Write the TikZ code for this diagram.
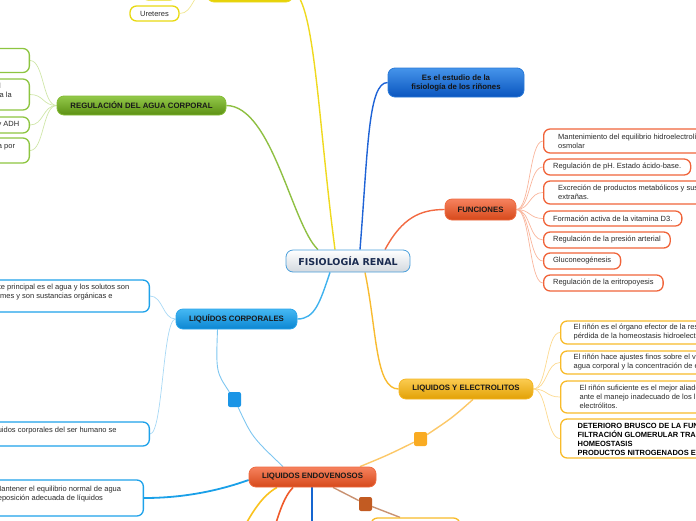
\documentclass[tikz,border=0pt]{standalone}
\usepackage{fontspec}
\setmainfont{Liberation Sans}
\newfontfamily\dvsans{DejaVu Sans}
\usetikzlibrary{shadings,calc}
\pgfdeclarelayer{bg}
\pgfsetlayers{bg,main}
\definecolor{grT}{HTML}{93C94A}\definecolor{grB}{HTML}{5C9013}\definecolor{grD}{HTML}{84BC35}
\definecolor{grC}{HTML}{8DC540}\definecolor{grL}{HTML}{CFE6A8}\definecolor{grM}{HTML}{8FC043}
\definecolor{yeT}{HTML}{F7EA55}\definecolor{yeB}{HTML}{E5D000}\definecolor{yeD}{HTML}{E9DB22}
\definecolor{yeC}{HTML}{E8D912}\definecolor{yeL}{HTML}{F0E690}\definecolor{yeM}{HTML}{EFD91E}
\definecolor{blT}{HTML}{4594EA}\definecolor{blB}{HTML}{0A55BF}\definecolor{blD}{HTML}{2A7AD8}
\definecolor{blM}{HTML}{1E63D6}
\definecolor{rdT}{HTML}{F6825E}\definecolor{rdB}{HTML}{D6481A}\definecolor{rdD}{HTML}{EE6A40}
\definecolor{rdC}{HTML}{F0643A}\definecolor{rdL}{HTML}{F9B59C}\definecolor{rdM}{HTML}{F26A42}
\definecolor{orT}{HTML}{FBCB50}\definecolor{orB}{HTML}{E2A105}\definecolor{orD}{HTML}{F5B623}
\definecolor{orC}{HTML}{F8BB2A}\definecolor{orL}{HTML}{FCD98E}\definecolor{orM}{HTML}{F8BB30}
\definecolor{cyT}{HTML}{45B8F3}\definecolor{cyB}{HTML}{0B86D2}\definecolor{cyD}{HTML}{2AA4EA}
\definecolor{cyC}{HTML}{1EA2EA}\definecolor{cyL}{HTML}{A7D8F5}\definecolor{cyM}{HTML}{40B2EE}
\definecolor{ceB}{HTML}{D3D9DF}\definecolor{ceD}{HTML}{4B9FDB}\definecolor{ceX}{HTML}{1A2B50}
\definecolor{sqB}{HTML}{1B95E6}\definecolor{sqO}{HTML}{F9AB22}\definecolor{sqR}{HTML}{C25B22}
\definecolor{rlB}{HTML}{7EC6F0}\definecolor{rlO}{HTML}{FCC868}\definecolor{rlR}{HTML}{C99272}
\definecolor{evY}{HTML}{F9C21E}\definecolor{evR}{HTML}{EF5A2A}\definecolor{evB}{HTML}{1565D0}
\definecolor{evC}{HTML}{1AA0E8}\definecolor{txt}{HTML}{2B2B2B}
\tikzset{
 topicbox/.style={rounded corners=7pt, inner sep=0pt, line width=0.8pt, align=center,
   font=\fontsize{7.8}{9}\selectfont\bfseries, text=black!90},
 childbox/.style={rounded corners=6.5pt, fill=white, line width=1.3pt, inner xsep=6pt,
   inner ysep=1pt, font=\fontsize{7.5}{9}\selectfont, text=txt},
 childR/.style={childbox, anchor=west, align=left, inner xsep=9.5pt},
 childL/.style={childbox, anchor=east, align=right},
 mainlink/.style={line width=1.4pt},
 twig/.style={line width=0.7pt},
 relbox/.style={rounded corners=2pt, minimum width=13pt, minimum height=14pt, inner sep=0pt}
}
\begin{document}
\begin{tikzpicture}[x=1pt,y=-1pt]
\useasboundingbox (0,0) rectangle (696,520);
% central
\node[topicbox, draw=ceD, top color=white, bottom color=ceB, minimum width=124pt, minimum height=22pt,
  font=\dvsans\bfseries\fontsize{9.5}{11}\selectfont, text=ceX] (c) at (348,261) {FISIOLOGÍA RENAL};
% main topics
\node[topicbox, draw=yeD, top color=yeT, bottom color=yeB, minimum width=86pt, minimum height=22pt] (A) at (250,-9) {};
\node[topicbox, draw=grD, top color=grT, bottom color=grB, minimum width=169pt, minimum height=19pt] (reg) at (141.5,105.5) {REGULACIÓN DEL AGUA CORPORAL};
\node[topicbox, draw=blD, top color=blT, bottom color=blB, minimum width=136pt, minimum height=29pt, text=black!92] (es) at (456,82.5) {Es el estudio de la\\fisiología de los riñones};
\node[topicbox, draw=rdD, top color=rdT, bottom color=rdB, minimum width=71pt, minimum height=21pt] (fun) at (480.5,209.5) {FUNCIONES};
\node[topicbox, draw=orD, top color=orT, bottom color=orB, minimum width=134pt, minimum height=20pt] (lye) at (466,389) {LIQUIDOS Y ELECTROLITOS};
\node[topicbox, draw=cyD, top color=cyT, bottom color=cyB, minimum width=121pt, minimum height=20pt] (lc) at (236.5,319) {LIQUÍDOS CORPORALES};
\node[topicbox, draw=rdD, top color=rdT, bottom color=rdB, minimum width=127pt, minimum height=20pt] (le) at (312.5,477) {LIQUIDOS ENDOVENOSOS};
% yellow children (top)
\node[childbox, draw=yeC, minimum width=34pt, minimum height=16pt] (B) at (159,-8) {};
\node[childbox, draw=yeC, minimum width=49pt, minimum height=15pt, inner sep=0pt] (ur) at (154.5,13.5) {Ureteres};
% green children
\node[childL, draw=grC, minimum width=100pt, minimum height=24pt] (g1) at (30,60.5) {};
\node[childL, draw=grC, minimum height=31pt] (g2) at (30,94.5) {La hormona antidiurética actúa a nivel del\rule{22.5pt}{0pt}\\túbulo colector y aumenta la\rule{11.5pt}{0pt}\\\mbox{}};
\node[childL, draw=grC, minimum height=16pt] (g3) at (30,125) {Osmolaridad plasmática y ADH\rule{4pt}{0pt}};
\node[childL, draw=grC, minimum height=25pt] (g4) at (30,150.5) {La excreción renal de agua es regulada por\rule{8.3pt}{0pt}\\\mbox{}};
% funciones children
\node[childR, draw=rdC, minimum height=24pt] (f1) at (543,141) {\rule{5pt}{0pt}Mantenimiento del equilibrio hidroelectrolítico y\\\rule{5pt}{0pt}osmolar};
\node[childR, draw=rdC, minimum height=16pt] (f2) at (543,167) {Regulación de pH. Estado ácido-base.};
\node[childR, draw=rdC, minimum height=23pt] (f3) at (543,192.5) {\rule{5pt}{0pt}Excreción de productos metabólicos y sustancias\\\rule{5pt}{0pt}extrañas.};
\node[childR, draw=rdC, minimum height=15pt] (f4) at (543,218.5) {Formación activa de la vitamina D3.};
\node[childR, draw=rdC, minimum height=16pt] (f5) at (543,240) {Regulación de la presión arterial};
\node[childR, draw=rdC, minimum height=16pt] (f6) at (543,261) {Gluconeogénesis};
\node[childR, draw=rdC, minimum height=16pt] (f7) at (543,283) {Regulación de la eritropoyesis};
% liquidos y electrolitos children
\node[childR, draw=orC, minimum height=23pt] (l1) at (560,332.5) {\rule{3.5pt}{0pt}El riñón es el órgano efector de la respuesta ante la\\\rule{3.5pt}{0pt}pérdida de la homeostasis hidroelectrolítica};
\node[childR, draw=orC, minimum height=23pt] (l2) at (560,362.5) {\rule{3.5pt}{0pt}El riñón hace ajustes finos sobre el volumen de\\\rule{3.5pt}{0pt}agua corporal y la concentración de electrolitos};
\node[childR, draw=orC, minimum height=32pt] (l3) at (560,397) {\rule{9.5pt}{0pt}El riñón suficiente es el mejor aliado del médico\\\rule{9.5pt}{0pt}ante el manejo inadecuado de los líquidos y\\\rule{9.5pt}{0pt}electrólitos.};
\node[childR, draw=orC, minimum height=39pt, font=\fontsize{7.5}{9}\selectfont\bfseries, text=black] (l4) at (560,438.5) {\rule{7.5pt}{0pt}DETERIORO BRUSCO DE LA FUNCIÓN RENAL\\\rule{7.5pt}{0pt}FILTRACIÓN GLOMERULAR TRASTORNO DE LA\\\rule{7.5pt}{0pt}HOMEOSTASIS\\\rule{7.5pt}{0pt}PRODUCTOS NITROGENADOS EN SANGRE};
% liquidos corporales children
\node[childL, draw=cyC, minimum height=32pt] (lc1) at (150,296) {El componente principal es el agua y los solutos son\rule{14pt}{0pt}\\multiformes y son sustancias orgánicas e\rule{30.7pt}{0pt}\\\mbox{}};
\node[childL, draw=cyC, minimum height=24pt] (lc2) at (150,434) {Los líquidos corporales del ser humano se\rule{26.7pt}{0pt}\\\mbox{}};
% liquidos endovenosos child
\node[childL, draw=cyC, minimum height=36pt] (lec) at (144,498) {Mantener el equilibrio normal de agua\rule{16.3pt}{0pt}\\reposición adecuada de líquidos\rule{34.4pt}{0pt}\\\mbox{}};
% bottom box
\node[childbox, draw=orC, minimum width=89pt, minimum height=24pt] (bb) at (415.5,530) {};
% relation squares
\node[relbox, fill=sqB, minimum height=15pt] (sq1) at (234.5,399.5) {};
\node[relbox, fill=sqO] (sq2) at (420.5,439) {};
\node[relbox, fill=sqR] (sq3) at (365.5,504) {};
% off-picture ends
\coordinate (ye) at (228,560);
\coordinate (re) at (266,560);
\coordinate (be) at (312,560);
\begin{pgfonlayer}{bg}
% main connectors
\draw[mainlink, yeM] ($(c.north)+(-13,0)$) .. controls (318,120) and (315,4) .. (A.east);
\draw[mainlink, grM] (reg.east) .. controls (272,106) and (292,225) .. ($(c.north)+(-30,0)$);
\draw[mainlink, blM] ($(c.north)+(12,0)$) .. controls (368,150) and (368,82.5) .. (es.west);
\draw[mainlink, rdM] ($(c.north)+(37,0)$) .. controls (402,218) and (420,209.5) .. (fun.west);
\draw[mainlink, orM] ($(c.south)+(17,0)$) .. controls (377,330) and (375,389) .. (lye.west);
\draw[mainlink, cyM] ($(c.south)+(-18,0)$) .. controls (320,302) and (315,319) .. (lc.east);
% twigs
\foreach \n in {B,ur} \draw[twig, yeL] (A.west) .. controls +(-14,0) and +(14,0) .. (\n.east);
\foreach \n in {g1,g2,g3,g4} \draw[twig, grL] (reg.west) .. controls +(-14,0) and +(14,0) .. (\n.east);
\foreach \n in {f1,f2,f3,f4,f5,f6,f7} \draw[twig, rdL] (fun.east) .. controls +(14,0) and +(-14,0) .. (\n.west);
\foreach \n in {l1,l2,l3,l4} \draw[twig, orL] (lye.east) .. controls +(14,0) and +(-14,0) .. (\n.west);
\foreach \n in {lc1,lc2} \draw[twig, cyL] (lc.west) .. controls +(-13,0) and +(13,0) .. (\n.east);
% relations
\draw[line width=0.9pt, rlB] ($(lc.south)+(-19,0)$) .. controls (216,372) .. (sq1) .. controls (252,437) .. ($(le.north)+(-29.5,0)$);
\draw[line width=1.4pt, rlO] ($(lye.south)+(7,0)$) .. controls (452,418) .. (sq2) .. controls (388,455) .. ($(le.north)+(47.5,0)$);
\draw[line width=1.4pt, rlR] ($(le.south)+(20.5,0)$) -- (sq3) -- ($(bb.north)+(-15.5,0)$);
% endovenosos branches
\draw[line width=1.8pt, evC] ($(le.west)+(0,3)$) .. controls (215,492) and (180,498) .. (lec.east);
\draw[line width=1.6pt, evY] ($(le.south)+(-35.5,0)$) .. controls (262,496) and (250,512) .. (ye);
\draw[line width=1.6pt, evR] ($(le.south)+(-19.5,0)$) .. controls (284,497) and (278,512) .. (re);
\draw[line width=1.6pt, evB] ($(le.south)+(-0.5,0)$) -- (be);
\end{pgfonlayer}
\end{tikzpicture}
\end{document}
